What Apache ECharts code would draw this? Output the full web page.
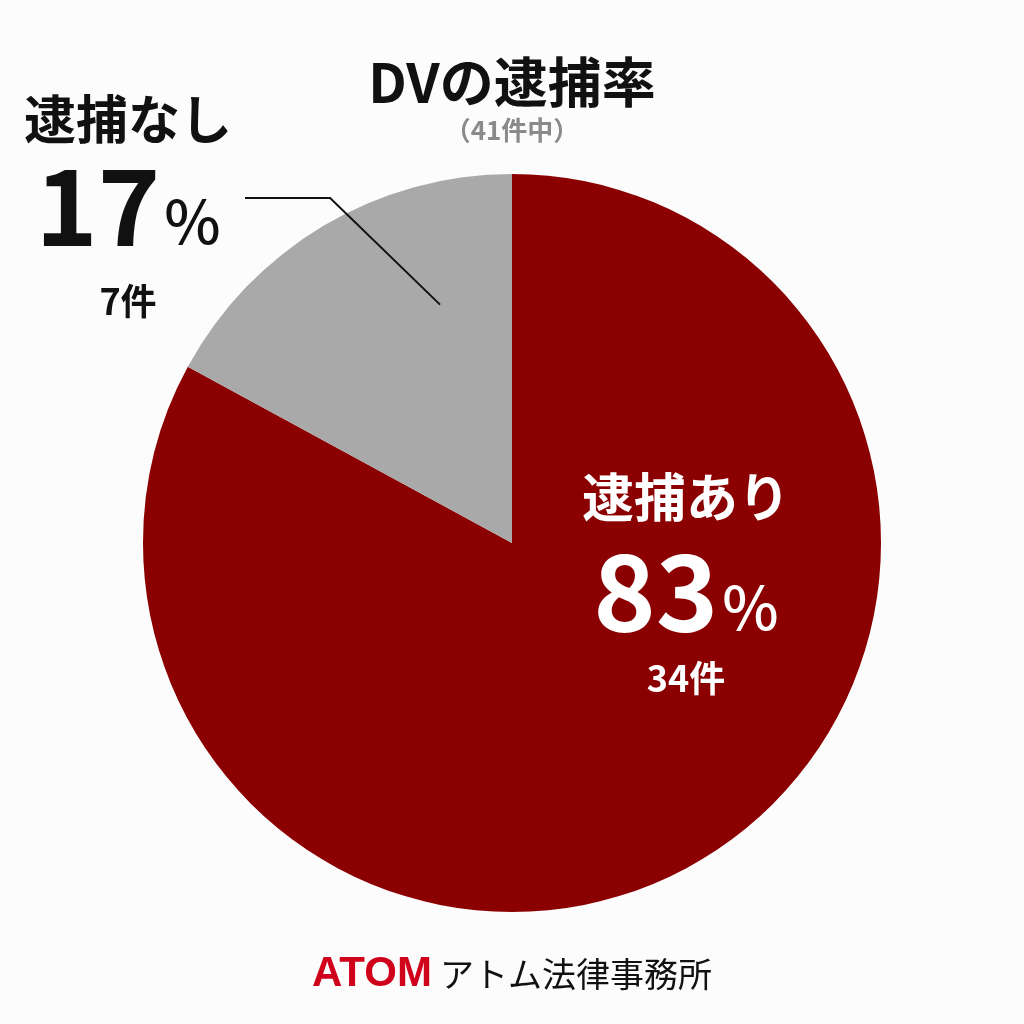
<!DOCTYPE html>
<html>
<head>
<meta charset="utf-8">
<title>DVの逮捕率</title>
<script src="https://cdn.jsdelivr.net/npm/echarts@6/dist/echarts.min.js"></script>
<style>
  html, body { margin: 0; padding: 0; background: #fcfcfc; }
  #chartBox { width: 1024px; height: 1024px; }
</style>
</head>
<body>
<div id="chartBox"></div>
<script>
// data
var categories = ['逮捕あり', '逮捕なし']
var counts = [34, 7]
var colors = ['#8b0000', '#a9a9a9']
var titleText = 'DVの逮捕率'
var subText = '（41件中）'

var font = '"Noto Sans CJK JP", "Noto Sans", sans-serif'
var center = [512, 543]
var radius = 369

// point on circle, angle in degrees (0 = right, counter clockwise)
function polar(r, deg) {
  var a = deg * Math.PI / 180
  return [center[0] + r * Math.cos(a), center[1] - r * Math.sin(a)]
}

// lh = line heights of the three label rows
function richFor(color, lh) {
  return {
    name: { fontSize: 52, fontWeight: 'bold', color: color, lineHeight: lh[0], align: 'center', fontFamily: font },
    pct: { fontSize: 106, fontWeight: 'bold', color: color, lineHeight: lh[1], verticalAlign: 'bottom', fontFamily: font },
    sign: { fontSize: 60, fontWeight: 500, color: color, lineHeight: lh[1], verticalAlign: 'bottom', padding: [0, 0, 8, 4], fontFamily: font },
    cnt: { fontSize: 36, fontWeight: 'bold', color: color, lineHeight: lh[2], align: 'center', fontFamily: font }
  }
}

function labelText(p) {
  return '{name|' + p.name + '}\n{pct|' + Math.round(p.percent) + '}{sign|%}\n{cnt|' + p.value + '件}'
}

// slices, with the label of the first one only
var pieData = categories.map(function (name, i) {
  return {
    name: name,
    value: counts[i],
    itemStyle: { color: colors[i] },
    label: { show: i === 0 }
  }
})

// same data again, transparent, on top: carries the outside label + leader line
var overlayData = categories.map(function (name, i) {
  return {
    name: name,
    value: counts[i],
    label: { show: i === 1 },
    labelLine: { show: i === 1 }
  }
})

var chart = echarts.init(document.getElementById('chartBox'))
chart.setOption({
  backgroundColor: '#fcfcfc',
  animation: false,
  title: [
    {
      text: titleText,
      subtext: subText,
      left: 'center',
      top: 50,
      itemGap: 8,
      textStyle: { fontSize: 54, fontWeight: 'bold', color: '#111', fontFamily: font },
      subtextStyle: { fontSize: 26, fontWeight: 'bold', color: '#8a8a8a', fontFamily: font }
    },
    {
      text: '{a|ATOM}{b|アトム法律事務所}',
      left: 'center',
      top: 948,
      textStyle: {
        rich: {
          a: { fontSize: 42, fontWeight: 900, color: '#d0021b', fontFamily: '"Liberation Sans", Arial, sans-serif' },
          b: { fontSize: 34, fontWeight: 'normal', color: '#111', padding: [0, 0, 0, 8], fontFamily: font }
        }
      }
    }
  ],
  series: [
    {
      type: 'pie',
      z: 2,
      center: center,
      radius: [0, radius],
      startAngle: 90,
      clockwise: true,
      silent: true,
      label: {
        position: 'inside',
        formatter: labelText,
        rich: richFor('#ffffff', [80, 108, 66])
      },
      labelLine: { show: false },
      labelLayout: function (params) {
        return { x: 686, y: 584, align: 'center', verticalAlign: 'middle' }
      },
      data: pieData
    },
    {
      type: 'pie',
      z: 5,
      center: center,
      radius: [0, radius],
      startAngle: 90,
      clockwise: true,
      silent: true,
      itemStyle: { color: 'rgba(0,0,0,0)' },
      label: {
        position: 'outside',
        formatter: labelText,
        rich: richFor('#111111', [80, 100, 84])
      },
      labelLine: {
        showAbove: true,
        lineStyle: { color: '#111', width: 2 }
      },
      labelLayout: function (params) {
        var bend = polar(390, 117.8)
        return {
          x: 128, y: 211, align: 'center', verticalAlign: 'middle',
          labelLinePoints: [polar(249, 106.8), bend, [245, bend[1]]]
        }
      },
      data: overlayData
    }
  ]
})
</script>
</body>
</html>
